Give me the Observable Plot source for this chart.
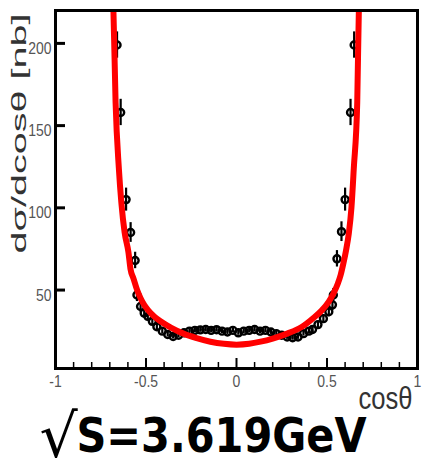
<!DOCTYPE html>
<html>
<head>
<meta charset="utf-8">
<script src="https://cdn.jsdelivr.net/npm/d3@7"></script>
<script src="https://cdn.jsdelivr.net/npm/@observablehq/plot@0.6"></script>
<style>
  html, body { margin: 0; padding: 0; background: #fff; }
  #chart { width: 423px; height: 461px; overflow: hidden; }
</style>
</head>
<body>
<div id="chart"></div>
<script>
// ---- data ----
const xMajor = [-1, -0.5, 0, 0.5, 1];
const xMinor = [-0.9, -0.8, -0.7, -0.6, -0.4, -0.3, -0.2, -0.1, 0.1, 0.2, 0.3, 0.4, 0.6, 0.7, 0.8, 0.9];
const yTicks = [50, 100, 150, 200];

const ptX = [-0.66, -0.64, -0.61, -0.585, -0.56, -0.55, -0.53, -0.51, -0.49, -0.465, -0.44, -0.41, -0.38, -0.35, -0.32, -0.29, -0.26, -0.23, -0.20, -0.17, -0.14, -0.11, -0.08, -0.05, -0.02, 0.01, 0.04, 0.07, 0.10, 0.13, 0.16, 0.19, 0.22, 0.25, 0.28, 0.31, 0.34, 0.37, 0.40, 0.42, 0.45, 0.48, 0.51, 0.53, 0.535, 0.555, 0.58, 0.60, 0.63, 0.65];
const ptY = [199, 158, 105, 85, 68, 47, 40, 36, 34, 31, 27.7, 25, 23, 21.8, 22.5, 24, 25, 25.5, 25.8, 26, 25.5, 25.9, 25, 24.5, 25.5, 24, 25, 25.5, 26, 25, 25.5, 24.5, 23.5, 22.5, 21.5, 21, 21.5, 23.5, 25, 26, 29, 32.6, 36.8, 41, 47, 69, 85.5, 105, 158, 199];
const ptErr = [8, 8, 7, 6, 5, 4, 3.5, 3, 2.5, 2, 2, 1.8, 1.5, 1.5, 1.5, 1.5, 1.5, 1.5, 1.5, 1.5, 1.5, 1.5, 1.5, 1.5, 1.5, 1.5, 1.5, 1.5, 1.5, 1.5, 1.5, 1.5, 1.5, 1.5, 1.5, 1.5, 1.5, 1.5, 1.8, 2, 2, 2.5, 3, 3.5, 4, 5, 6, 7, 8, 8];

const fitX = [-0.684, -0.68, -0.668, -0.65, -0.636, -0.618, -0.597, -0.586, -0.569, -0.549, -0.53, -0.51, -0.49, -0.45, -0.42, -0.36, -0.293, -0.22, -0.144, -0.07, 0, 0.07, 0.133, 0.2, 0.28, 0.36, 0.425, 0.47, 0.51, 0.536, 0.56, 0.575, 0.59, 0.605, 0.62, 0.635, 0.648, 0.667, 0.676, 0.68];
const fitY = [230, 220, 164, 124, 103, 85, 73, 63, 57, 50, 45, 41, 38, 33.5, 31, 27, 23.5, 20.8, 18.6, 17.3, 16.8, 17.3, 18.6, 20.5, 23.5, 27.5, 33, 37.5, 43, 48, 54, 59, 66, 74, 84, 100, 124, 164, 220, 230];

const yTitle = "dσ/dcosθ [nb]";
const xTitle = "cosθ";
const capRoot = "√";
const capText = "S=3.619GeV";

// ---- build tables ----
const points = ptX.map((x, i) => ({x, y: ptY[i], e: ptErr[i]}));
const fit = fitX.map((x, i) => ({x, y: fitY[i]}));

const W = 423, H = 461, mL = 55, mR = 6, mT = 10, mB = 93;
const frameW = W - mL - mR, frameH = H - mT - mB;
const helv = "'Liberation Sans', Arimo, Arial, sans-serif";

const plot = Plot.plot({
  width: W, height: H,
  marginLeft: mL, marginRight: mR, marginTop: mT, marginBottom: mB,
  style: {background: "#fff", fontFamily: helv, overflow: "visible"},
  x: {domain: [-1, 1]},
  y: {domain: [2.3, 220]},
  marks: [
    Plot.ruleX(points, {x: "x", y1: d => d.y - d.e, y2: d => d.y + d.e, stroke: "black", strokeWidth: 2.2}),
    Plot.dot(points, {x: "x", y: "y", r: 3.5, stroke: "black", strokeWidth: 2.4, fill: "none"}),
    Plot.line(fit, {x: "x", y: "y", stroke: "#ff0000", strokeWidth: 6, curve: "monotone-x", clip: true}),
    Plot.tickX(xMinor, {x: d => d, stroke: "black", strokeWidth: 1.5, insetTop: frameH - 6}),
    Plot.tickX(xMajor, {x: d => d, stroke: "black", strokeWidth: 2, insetTop: frameH - 10}),
    Plot.tickY(yTicks, {y: d => d, stroke: "black", strokeWidth: 3, insetRight: frameW - 10}),
    Plot.frame({stroke: "black", strokeWidth: 3}),
    Plot.axisX({ticks: xMajor, tickSize: 0, tickPadding: 6, tickFormat: d => String(d), fontSize: 17, fontFamily: helv, color: "#555", label: null}),
    Plot.axisY({ticks: yTicks, tickSize: 0, tickPadding: 4, dy: 5, tickFormat: d => String(d), fontSize: 17, fontFamily: helv, color: "#555", label: null}),
    Plot.text([xTitle], {frameAnchor: "bottom-right", text: d => d, dx: -5, dy: 40, textAnchor: "end", lineAnchor: "bottom", fontSize: 31, fontFamily: helv, fill: "#333"}),
    Plot.text([yTitle], {frameAnchor: "bottom-left", text: d => d, dx: -36, dy: -115, rotate: -90, textAnchor: "start", lineAnchor: "middle", fontSize: 20, fontFamily: helv, fill: "#333"}),
    Plot.text([capRoot], {frameAnchor: "bottom-left", text: d => d, dx: -16, dy: 88, textAnchor: "start", lineAnchor: "bottom", fontSize: 60, fontFamily: "'DejaVu Sans', sans-serif", fill: "#000"}),
    Plot.text([capText], {frameAnchor: "bottom-left", text: d => d, dx: 21, dy: 83, textAnchor: "start", lineAnchor: "bottom", fontSize: 48, fontWeight: "bold", fontFamily: "'DejaVu Sans', sans-serif", fill: "#000"})
  ]
});

document.getElementById("chart").appendChild(plot);

// stretch / condense texts to match the original proportions
const tickLabels = new Set([...xMajor, ...yTicks].map(String));
d3.select(plot).selectAll("text").each(function () {
  const t = this.textContent;
  if (t === yTitle) { this.setAttribute("textLength", 240); this.setAttribute("lengthAdjust", "spacingAndGlyphs"); }
  else if (t === capText) { this.setAttribute("textLength", 290); this.setAttribute("lengthAdjust", "spacingAndGlyphs"); }
  else if (t === xTitle) { this.setAttribute("textLength", 54); this.setAttribute("lengthAdjust", "spacingAndGlyphs"); }
  else if (tickLabels.has(t) && this.getComputedTextLength) {
    const L = this.getComputedTextLength();
    if (L > 0) { this.setAttribute("textLength", (L * 0.82).toFixed(1)); this.setAttribute("lengthAdjust", "spacingAndGlyphs"); }
  }
});
</script>
</body>
</html>
